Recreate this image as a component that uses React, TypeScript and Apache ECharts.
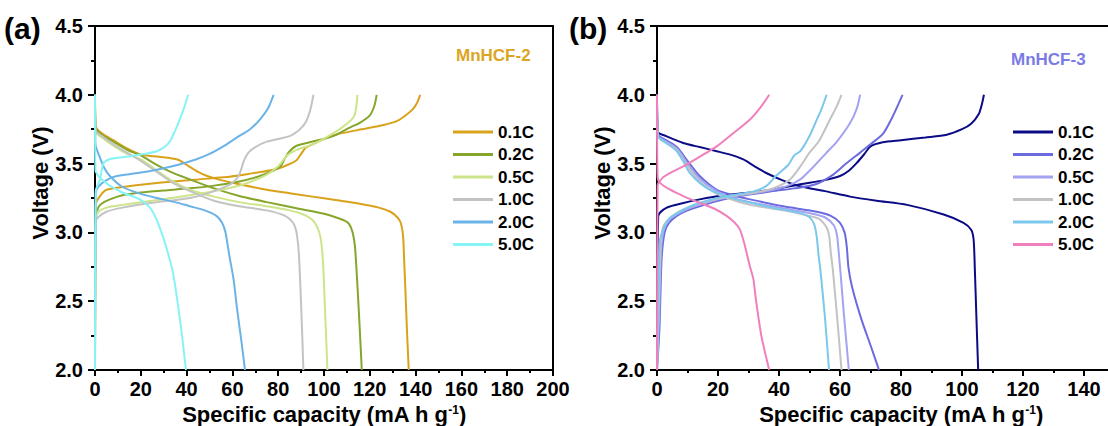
import React, { useEffect, useRef } from "react";
import * as echarts from "echarts";

const FONT = "'Liberation Sans', Arial, sans-serif";

// ---------- Panel (a): MnHCF-2 ----------
const rates = ["0.1C", "0.2C", "0.5C", "1.0C", "2.0C", "5.0C"];
const colorsA = ["#D9A21B", "#86A62B", "#CDE58A", "#C3C3C3", "#6BB3E6", "#86F3F7"];
const colorsB = ["#0B0B86", "#6B6BDF", "#A3A3F2", "#C3C3C3", "#7CC8EC", "#F07FBE"];

const a01Charge = [[0,2.0],[0.3,3.2],[2,3.26],[5,3.31],[12,3.33],[22,3.35],[34,3.37],[45,3.385],[56,3.40],[67,3.425],[78,3.455],[84,3.49],[88,3.525],[90,3.57],[92,3.615],[95,3.64],[104,3.705],[115,3.745],[126,3.78],[132,3.81],[136,3.855],[139,3.9],[140.6,3.94],[142,4.0]];
const a01Discharge = [[0,4.0],[0.3,3.77],[3,3.72],[8,3.67],[14,3.61],[20,3.565],[28,3.55],[36,3.53],[41,3.48],[45,3.44],[49,3.41],[55,3.38],[63,3.35],[75,3.31],[85,3.285],[95,3.26],[105,3.235],[115,3.21],[124,3.18],[129,3.15],[132,3.11],[133.5,3.07],[134.5,2.98],[135,2.8],[135.5,2.6],[136.2,2.3],[137,2.0]];
const a02Charge = [[0,2.0],[0.4,3.12],[1.4,3.18],[3,3.21],[6.5,3.24],[12,3.27],[20,3.29],[30,3.305],[41.5,3.32],[52,3.34],[63,3.37],[72,3.41],[78,3.45],[81,3.48],[83,3.54],[85,3.59],[88,3.63],[95,3.66],[104,3.7],[111,3.76],[116,3.8],[120,3.85],[122,3.92],[123,4.0]];
const a02Discharge = [[0,4.0],[0.3,3.76],[3,3.71],[8,3.66],[14,3.6],[20,3.56],[26,3.5],[33,3.44],[41.5,3.385],[52,3.32],[63,3.265],[75,3.22],[89.5,3.17],[100,3.135],[105,3.11],[109,3.085],[111,3.06],[112.5,3.0],[113.5,2.9],[114.3,2.7],[115.3,2.4],[116.5,2.0]];
const a05Charge = [[0,2.0],[0.4,3.1],[1.5,3.15],[5,3.18],[12,3.2],[25,3.23],[41.5,3.27],[55,3.31],[65,3.35],[75,3.42],[80,3.48],[84,3.56],[88,3.6],[95,3.64],[104,3.72],[110,3.79],[113,3.84],[114,3.9],[114.6,4.0]];
const a05Discharge = [[0,4.0],[0.3,3.73],[3,3.69],[8,3.63],[14,3.57],[20,3.53],[27,3.45],[34,3.37],[41.5,3.31],[52,3.26],[63,3.22],[75,3.19],[85,3.16],[91,3.13],[95,3.09],[97,3.04],[98.5,2.96],[99.5,2.8],[100.3,2.5],[101.5,2.0]];
const a10Charge = [[0,2.0],[0.4,3.08],[1.4,3.11],[5,3.15],[12,3.18],[25,3.215],[41.5,3.25],[52,3.3],[60,3.36],[63,3.42],[65,3.52],[67,3.58],[70,3.62],[75,3.66],[85,3.7],[89.5,3.75],[92,3.8],[94,3.89],[95.4,4.0]];
const a10Discharge = [[0,4.0],[0.3,3.74],[3,3.7],[8,3.64],[14,3.58],[20,3.52],[27,3.44],[34,3.36],[41.5,3.3],[52,3.23],[63,3.19],[75,3.16],[83,3.12],[86.5,3.07],[88,3.0],[89,2.85],[89.7,2.6],[90.4,2.3],[91,2.0]];
const a20Charge = [[0,2.0],[0.3,3.28],[1.4,3.33],[5,3.38],[9.5,3.41],[18,3.43],[27,3.456],[36,3.49],[44,3.53],[50,3.57],[56,3.625],[62,3.69],[67.7,3.75],[72,3.82],[75.5,3.9],[78,4.0]];
const a20Discharge = [[0,4.0],[0.2,3.64],[2,3.55],[4,3.47],[6.5,3.41],[12,3.33],[20,3.28],[27,3.25],[35,3.22],[41.5,3.19],[48,3.16],[53,3.12],[55.5,3.07],[57,3.0],[58,2.9],[59,2.8],[60.5,2.66],[62,2.45],[64,2.2],[65.5,2.0]];
const a50Charge = [[0,2.0],[0.3,3.3],[2.2,3.385],[3.6,3.5],[6,3.53],[9.5,3.54],[19.6,3.565],[27,3.59],[31,3.63],[33,3.67],[35,3.74],[37,3.82],[39,3.91],[40.7,4.0]];
const a50Discharge = [[0,4.0],[0.2,3.45],[2,3.4],[4,3.37],[6.5,3.34],[12,3.29],[19.6,3.24],[24,3.18],[27,3.09],[29,3.0],[31,2.9],[34,2.71],[36,2.5],[38,2.25],[39.7,2.0]];

// ---------- Panel (b): MnHCF-3 ----------
const b01Charge = [[0,2.0],[0.4,3.12],[3.2,3.18],[8,3.21],[14,3.24],[22,3.27],[30.5,3.29],[40,3.32],[47,3.35],[55,3.38],[60,3.41],[63,3.45],[65.5,3.505],[68,3.57],[70,3.625],[74,3.655],[80,3.67],[88,3.69],[95,3.71],[100,3.75],[103,3.79],[105.5,3.86],[106.5,3.93],[107.2,4.0]];
const b01Discharge = [[0,4.0],[0.3,3.73],[3,3.7],[8.6,3.65],[14,3.62],[19.6,3.59],[24,3.565],[28.3,3.53],[32,3.48],[36,3.43],[41,3.38],[46.9,3.335],[55,3.3],[63.3,3.26],[72,3.23],[82,3.2],[94,3.13],[100.5,3.07],[103,3.02],[103.8,2.95],[104.2,2.74],[104.7,2.4],[105.3,2.0]];
const b02Charge = [[0,2.0],[0.8,2.3],[1.5,2.8],[2.5,3.0],[4,3.07],[6.5,3.12],[10,3.16],[14,3.19],[20,3.23],[26,3.26],[32,3.28],[38,3.3],[45,3.32],[52,3.35],[57.8,3.42],[62,3.5],[66.6,3.58],[70,3.64],[74.2,3.72],[77,3.83],[80.5,4.0]];
const b02Discharge = [[0,4.0],[0.3,3.71],[3,3.67],[6.5,3.62],[10,3.52],[14,3.41],[19.6,3.31],[25,3.27],[30.5,3.24],[41.4,3.19],[52.4,3.15],[57,3.12],[60,3.07],[61.5,3.0],[62.2,2.9],[62.8,2.74],[64,2.6],[67,2.37],[70,2.18],[72.8,2.0]];
const b05Charge = [[0,2.0],[0.7,2.4],[1.3,2.85],[2.2,3.02],[4,3.09],[6.5,3.13],[10,3.17],[14,3.2],[20,3.24],[26,3.265],[32,3.285],[38,3.31],[43,3.34],[47,3.385],[51,3.47],[55.6,3.58],[59,3.66],[63.3,3.795],[65.5,3.9],[66.6,4.0]];
const b05Discharge = [[0,4.0],[0.3,3.7],[3,3.66],[6.5,3.61],[10,3.5],[14,3.39],[19.6,3.3],[25,3.25],[30.5,3.22],[41.4,3.175],[50,3.14],[55,3.11],[58,3.05],[59,2.98],[59.6,2.85],[60.2,2.7],[61.3,2.4],[62.9,2.0]];
const b10Charge = [[0,2.0],[0.6,2.5],[1.2,2.9],[2,3.04],[4,3.1],[6.5,3.14],[10,3.18],[14,3.21],[20,3.245],[26,3.27],[32,3.29],[38,3.32],[43.6,3.385],[47,3.48],[50,3.58],[53,3.66],[56.7,3.82],[59,3.92],[60.5,4.0]];
const b10Discharge = [[0,4.0],[0.3,3.7],[3,3.65],[6.5,3.6],[10,3.48],[14,3.37],[19.6,3.28],[25,3.235],[30.5,3.2],[41.4,3.16],[48,3.13],[53,3.1],[55.5,3.04],[56.4,2.98],[57,2.85],[57.6,2.74],[59,2.4],[60.5,2.0]];
const b20Charge = [[0,2.0],[0.5,2.6],[1,2.95],[2.6,3.05],[4,3.1],[6.5,3.14],[10,3.18],[14,3.215],[20,3.25],[26,3.275],[32,3.3],[36,3.34],[39,3.41],[43,3.49],[45,3.56],[47,3.59],[50,3.7],[52.4,3.82],[54,3.9],[55.6,4.0]];
const b20Discharge = [[0,4.0],[0.3,3.7],[3,3.65],[6.5,3.59],[9,3.5],[10.8,3.43],[14,3.36],[17.4,3.31],[23,3.26],[30.5,3.215],[40,3.17],[46.9,3.14],[50,3.11],[51.5,3.06],[52.3,2.98],[52.9,2.85],[53.5,2.74],[55,2.4],[56.4,2.0]];
const b50Charge = [[0,2.0],[0.2,3.34],[2,3.4],[5,3.44],[8.6,3.48],[14,3.55],[19.6,3.625],[25,3.72],[30.5,3.82],[34,3.91],[36.8,4.0]];
const b50Discharge = [[0,4.0],[0.2,3.4],[1,3.36],[4.3,3.31],[9,3.26],[14,3.215],[19,3.17],[22.8,3.12],[25.5,3.07],[27.2,3.02],[28.5,2.93],[29.4,2.85],[30.5,2.75],[31.6,2.66],[32.5,2.5],[34.2,2.25],[36.8,2.0]];

const chargeA = [a01Charge, a02Charge, a05Charge, a10Charge, a20Charge, a50Charge];
const dischargeA = [a01Discharge, a02Discharge, a05Discharge, a10Discharge, a20Discharge, a50Discharge];
const chargeB = [b01Charge, b02Charge, b05Charge, b10Charge, b20Charge, b50Charge];
const dischargeB = [b01Discharge, b02Discharge, b05Discharge, b10Discharge, b20Discharge, b50Discharge];

const xMaxA = 200;
const xMaxB = 160;

function axesFor(grid: number, xMax: number, showMax: boolean) {
  const lbl = { color: "#000", fontSize: 20, fontWeight: "bold", fontFamily: FONT };
  const line = { show: true, lineStyle: { color: "#000", width: 2 } };
  return {
    x: [
      {
        gridIndex: grid, type: "value", min: 0, max: xMax, interval: 20,
        axisLine: { ...line, onZero: false },
        axisTick: { show: true, length: 6, lineStyle: { color: "#000", width: 2 } },
        minorTick: { show: true, splitNumber: 2, length: 3, lineStyle: { color: "#000", width: 2 } },
        splitLine: { show: false },
        axisLabel: { ...lbl, margin: 9, showMaxLabel: showMax },
        name: "Specific capacity (mA h g{sup|-1})",
        nameLocation: "middle", nameGap: 28,
        nameTextStyle: {
          color: "#000", fontSize: 22, fontWeight: "bold", fontFamily: FONT,
          rich: { sup: { fontSize: 12, fontWeight: "bold", fontFamily: FONT, color: "#000", verticalAlign: "top", lineHeight: 12 } },
        },
      },
      {
        gridIndex: grid, type: "value", min: 0, max: xMax, position: "top",
        axisLine: { ...line, onZero: false }, axisTick: { show: false }, axisLabel: { show: false }, splitLine: { show: false },
      },
    ],
    y: [
      {
        gridIndex: grid, type: "value", min: 2.0, max: 4.5, interval: 0.5,
        axisLine: { ...line, onZero: false },
        axisTick: { show: true, length: 7, lineStyle: { color: "#000", width: 2 } },
        minorTick: { show: true, splitNumber: 2, length: 4, lineStyle: { color: "#000", width: 2 } },
        splitLine: { show: false },
        axisLabel: { ...lbl, margin: 12, formatter: (v: number) => v.toFixed(1) },
        name: "Voltage (V)", nameLocation: "middle", nameGap: 41, nameRotate: 90,
        nameTextStyle: { color: "#000", fontSize: 22, fontWeight: "bold", fontFamily: FONT, padding: [0, 0, 0, 30] },
      },
      {
        gridIndex: grid, type: "value", min: 2.0, max: 4.5, position: "right",
        axisLine: { ...line, onZero: false }, axisTick: { show: false }, axisLabel: { show: false }, splitLine: { show: false },
      },
    ],
  };
}

export default function App() {
  const ref = useRef<HTMLDivElement>(null);
  useEffect(() => {
    document.body.style.margin = "0";
    if (!ref.current) return;
    const chart = echarts.init(ref.current, null, { renderer: "svg" });
    const ax0 = axesFor(0, xMaxA, true);
    const ax1 = axesFor(1, xMaxB, false);
    const series: any[] = [];
    const mk = (prefix: string, colors: string[], ch: number[][][], dis: number[][][], xi: number, yi: number) => {
      rates.forEach((r, i) => {
        [ch[i], dis[i]].forEach((d) => {
          series.push({
            type: "line", name: prefix + r, xAxisIndex: xi, yAxisIndex: yi, data: d,
            showSymbol: false, smooth: 0.25, color: colors[i],
            lineStyle: { width: 2, color: colors[i] }, z: 3, emphasis: { disabled: true },
          });
        });
      });
    };
    mk("a:", colorsA, chargeA, dischargeA, 0, 0);
    mk("b:", colorsB, chargeB, dischargeB, 2, 2);
    const legendBase = {
      orient: "vertical", itemWidth: 40, itemHeight: 3, itemGap: 4.5, icon: "rect", selectedMode: false,
      textStyle: { fontSize: 17, fontWeight: "bold", color: "#000", fontFamily: FONT, lineHeight: 18 },
      formatter: (n: string) => n.slice(2),
    };
    chart.setOption({
      animation: false,
      backgroundColor: "#fff",
      grid: [
        { left: 95, top: 26, width: 458, height: 344, outerBoundsMode: "none", containLabel: false },
        { left: 657, top: 26, width: 488, height: 344, outerBoundsMode: "none", containLabel: false },
      ],
      xAxis: [...ax0.x, ...ax1.x],
      yAxis: [...ax0.y, ...ax1.y],
      legend: [
        { ...legendBase, left: 448, top: 118, data: rates.map((r) => "a:" + r) },
        { ...legendBase, left: 1008, top: 118, data: rates.map((r) => "b:" + r) },
      ],
      graphic: [
        { type: "text", left: 4, top: 13, style: { text: "(a)", fontSize: 30, fontWeight: "bold", fontFamily: FONT, fill: "#000" } },
        { type: "text", left: 569, top: 13, style: { text: "(b)", fontSize: 30, fontWeight: "bold", fontFamily: FONT, fill: "#000" } },
        { type: "text", left: 456, top: 47, style: { text: "MnHCF-2", fontSize: 17, fontWeight: "bold", fontFamily: FONT, fill: "#DCA51F" } },
        { type: "text", left: 1011, top: 51, style: { text: "MnHCF-3", fontSize: 17, fontWeight: "bold", fontFamily: FONT, fill: "#7B7BE6" } },
      ],
      series,
    });
    return () => chart.dispose();
  }, []);
  return <div ref={ref} style={{ width: 1108, height: 426 }} />;
}
